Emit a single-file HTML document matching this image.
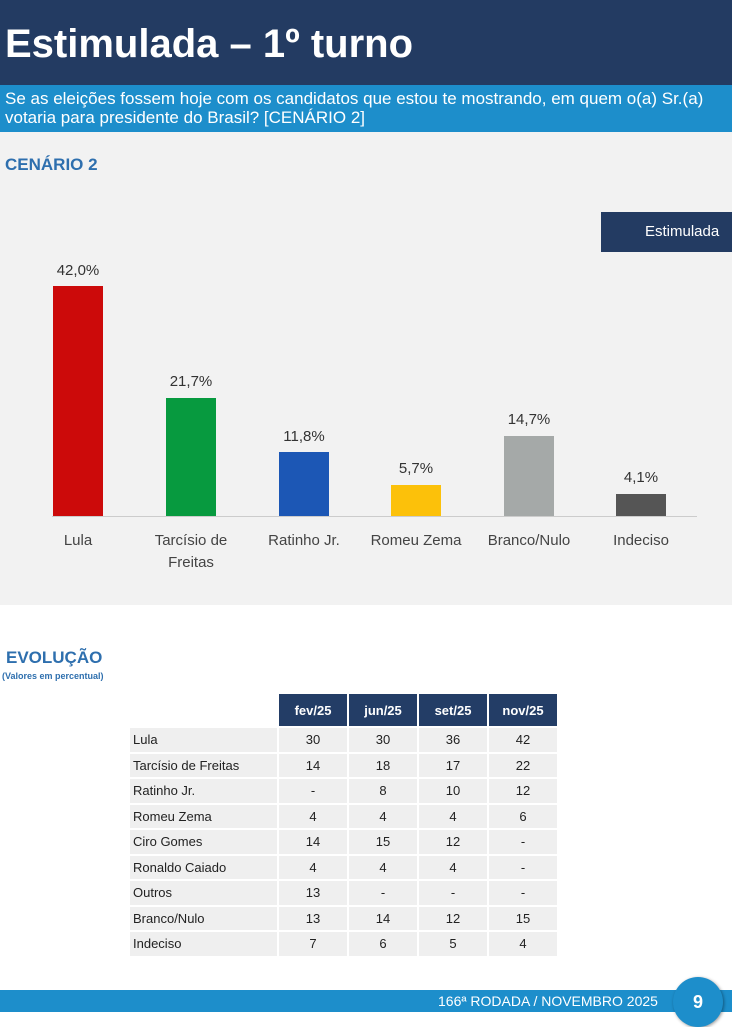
<!DOCTYPE html>
<html><head><meta charset="utf-8"><style>
*{margin:0;padding:0;box-sizing:border-box}
body{width:732px;height:1024px;position:relative;background:#fff;font-family:"Liberation Sans",sans-serif;overflow:hidden}
.a{position:absolute}
.bar{position:absolute;width:50px}
.val{position:absolute;width:80px;text-align:center;font-size:15px;color:#333}
.lab{position:absolute;width:120px;text-align:center;font-size:15px;color:#444;line-height:22px}
table{position:absolute;left:128px;top:692px;border-collapse:separate;border-spacing:2px;font-size:13px;color:#222}
td,th{height:23.5px}
th{background:#233d66;color:#fff;width:68px;font-weight:bold;height:32px}
td{background:#efefef;text-align:center}
td.l{text-align:left;width:147px;padding-left:3px}
</style></head><body>
<div class="a" style="left:0;top:0;width:732px;height:85px;background:#233b62"></div>
<div class="a" style="left:5px;top:22px;font-size:40px;font-weight:bold;color:#fff;white-space:nowrap">Estimulada – 1º turno</div>
<div class="a" style="left:0;top:85px;width:732px;height:47px;background:#1d8ecb"></div>
<div class="a" style="left:5px;top:89px;font-size:17px;color:#fff;line-height:19px;white-space:nowrap">Se as eleições fossem hoje com os candidatos que estou te mostrando, em quem o(a) Sr.(a)<br>votaria para presidente do Brasil? [CENÁRIO 2]</div>
<div class="a" style="left:0;top:132px;width:732px;height:473px;background:#f2f2f2"></div>
<div class="a" style="left:5px;top:155px;font-size:17px;font-weight:bold;color:#2e6fae">CENÁRIO 2</div>
<div class="a" style="left:601px;top:212px;width:131px;height:40px;background:#233b62;color:#fff;font-size:15px;line-height:40px;padding-left:44px">Estimulada</div>
<div class="a" style="left:52px;top:516px;width:645px;height:1px;background:#ccc"></div>
<div class="bar" style="left:53px;top:286px;height:230px;background:#cc0a0a"></div>
<div class="bar" style="left:166px;top:398px;height:118px;background:#079a3f"></div>
<div class="bar" style="left:279px;top:452px;height:64px;background:#1c57b5"></div>
<div class="bar" style="left:391px;top:485px;height:31px;background:#fcc10a"></div>
<div class="bar" style="left:504px;top:436px;height:80px;background:#a5a9a8"></div>
<div class="bar" style="left:616px;top:494px;height:22px;background:#555"></div>
<div class="val" style="left:38px;top:262px">42,0%</div>
<div class="val" style="left:151px;top:373px">21,7%</div>
<div class="val" style="left:264px;top:428px">11,8%</div>
<div class="val" style="left:376px;top:460px">5,7%</div>
<div class="val" style="left:489px;top:411px">14,7%</div>
<div class="val" style="left:601px;top:469px">4,1%</div>
<div class="lab" style="left:18px;top:530px">Lula</div>
<div class="lab" style="left:131px;top:530px">Tarcísio de<br>Freitas</div>
<div class="lab" style="left:244px;top:530px">Ratinho Jr.</div>
<div class="lab" style="left:356px;top:530px">Romeu Zema</div>
<div class="lab" style="left:469px;top:530px">Branco/Nulo</div>
<div class="lab" style="left:581px;top:530px">Indeciso</div>
<div class="a" style="left:6px;top:648px;font-size:17px;font-weight:bold;color:#2e6fae">EVOLUÇÃO</div>
<div class="a" style="left:2px;top:671px;font-size:9px;font-weight:bold;color:#2e6fae">(Valores em percentual)</div>
<table>
<tr><th style="background:none"></th><th>fev/25</th><th>jun/25</th><th>set/25</th><th>nov/25</th></tr>
<tr><td class="l">Lula</td><td>30</td><td>30</td><td>36</td><td>42</td></tr>
<tr><td class="l">Tarcísio de Freitas</td><td>14</td><td>18</td><td>17</td><td>22</td></tr>
<tr><td class="l">Ratinho Jr.</td><td>-</td><td>8</td><td>10</td><td>12</td></tr>
<tr><td class="l">Romeu Zema</td><td>4</td><td>4</td><td>4</td><td>6</td></tr>
<tr><td class="l">Ciro Gomes</td><td>14</td><td>15</td><td>12</td><td>-</td></tr>
<tr><td class="l">Ronaldo Caiado</td><td>4</td><td>4</td><td>4</td><td>-</td></tr>
<tr><td class="l">Outros</td><td>13</td><td>-</td><td>-</td><td>-</td></tr>
<tr><td class="l">Branco/Nulo</td><td>13</td><td>14</td><td>12</td><td>15</td></tr>
<tr><td class="l">Indeciso</td><td>7</td><td>6</td><td>5</td><td>4</td></tr>
</table>
<div class="a" style="left:0;top:990px;width:732px;height:22px;background:#1d8ecb"></div>
<div class="a" style="left:438px;top:993px;font-size:14px;color:#fff">166ª RODADA / NOVEMBRO 2025</div>
<div class="a" style="left:673px;top:977px;width:50px;height:50px;border-radius:50%;background:#1d8ecb;box-shadow:1px 1px 3px rgba(0,0,0,.4);color:#fff;font-weight:bold;font-size:18px;text-align:center;line-height:50px">9</div>
</body></html>
